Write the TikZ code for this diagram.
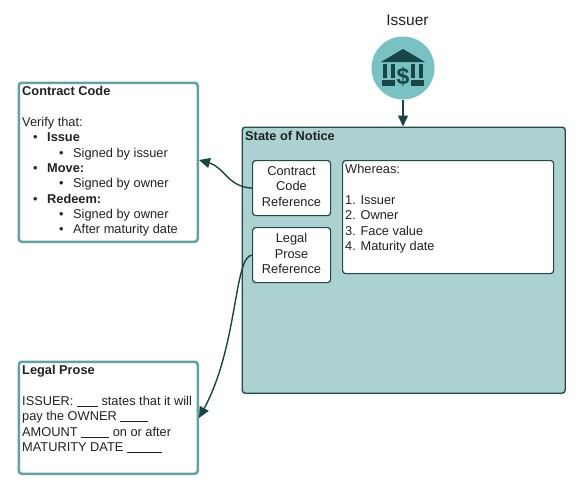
\documentclass[tikz,border=0pt]{standalone}
\usepackage{fontspec}
\setmainfont{Liberation Sans}
\usetikzlibrary{arrows.meta,positioning}
\definecolor{tealedge}{HTML}{5FA3A3}
\definecolor{darkedge}{HTML}{23494B}
\definecolor{statefill}{HTML}{ABD1D0}
\definecolor{circfill}{HTML}{78C2C3}
\definecolor{icon}{HTML}{174548}
\definecolor{txt}{HTML}{222222}
\newcommand{\lineset}{\fontsize{12.8pt}{15.3pt}\selectfont}
\newcommand{\ua}[1]{\rule[-1pt]{#1}{0.6pt}}
\newcommand{\bA}{\hspace*{11pt}\makebox[14pt][l]{\textbullet}}
\newcommand{\bB}{\hspace*{37pt}\makebox[14pt][l]{\textbullet}}
\tikzset{
  x=1pt,y=-1pt,
  outerbox/.style={draw=tealedge,line width=2.5pt,rounded corners=3pt,fill=white,inner sep=0pt,anchor=north west},
  statebox/.style={draw=darkedge,line width=1.4pt,rounded corners=3pt,fill=statefill,inner sep=0pt,anchor=north west},
  innerbox/.style={draw=darkedge,line width=1.2pt,rounded corners=3pt,fill=white,inner sep=0pt,anchor=north west},
  boxtext/.style={inner sep=0pt,anchor=north west,align=left,text=txt,font=\lineset},
  reftext/.style={inner sep=0pt,align=center,text=txt,font=\lineset},
  link/.style={draw=icon,line width=1.4pt,-{Triangle[length=11pt,width=10pt]}},
}
\begin{document}
\begin{tikzpicture}
\useasboundingbox (0,0) rectangle (580,487);
\fill[white] (0,0) rectangle (580,487);
% boxes
\node[outerbox,minimum width=179pt,minimum height=159pt] (code) at (17.5,81.5) {};
\node[outerbox,minimum width=179pt,minimum height=112pt] (prose) at (17.5,360.5) {};
\node[statebox,minimum width=323pt,minimum height=266pt] (state) at (241.5,126.5) {};
\node[innerbox,minimum width=78pt,minimum height=55pt] (ccref) at (252,160) {};
\node[innerbox,minimum width=78pt,minimum height=55pt] (lpref) at (252,227) {};
\node[innerbox,minimum width=211pt,minimum height=113pt] (whereas) at (342,160) {};
% circle and icon
\node[circle,fill=circfill,minimum size=63pt,inner sep=0pt] (issuer) at (403,68) {};
\fill[icon] (403,49) -- (425,62) -- (381,62) -- cycle;
\foreach \px in {384,392,420,412}{\fill[icon] (\px-1.5,64) rectangle (\px+3,78);}
\fill[icon] (382,80) rectangle (424,86);
\node[inner sep=1.5pt,fill=circfill,text=icon,font=\fontsize{23pt}{23pt}\selectfont\bfseries] (dollar) at (403,76.5) {\$};
% texts
\node[inner sep=0pt,text=txt,font=\fontsize{15.5pt}{17pt}\selectfont] (issuerlabel) at (407.5,20) {Issuer};
\node[boxtext] (codetext) at (22,86.5) {\textbf{Contract Code}\\[15.3pt]
Verify that:\\
\bA\textbf{Issue}\\
\bB Signed by issuer\\
\bA\textbf{Move:}\\
\bB Signed by owner\\
\bA\textbf{Redeem:}\\
\bB Signed by owner\\
\bB After maturity date};
\node[boxtext] (prosetext) at (22,365.5) {\textbf{Legal Prose}\\[15.3pt]
ISSUER: \ua{21pt} states that it will\\
pay the OWNER \ua{28pt}\\
AMOUNT \ua{28pt} on or after\\
MATURITY DATE \ua{35pt}};
\node[boxtext,anchor=north west] (statetitle) at (245,131.5) {\textbf{State of Notice}};
\node[reftext] (cctext) at (291.5,186.5) {Contract\\Code\\Reference};
\node[reftext] (lptext) at (291.5,253.5) {Legal\\Prose\\Reference};
\node[boxtext] (wtext) at (345,164.5) {Whereas:\\[15.3pt]
1. Issuer\\
2. Owner\\
3. Face value\\
4. Maturity date};
% connectors
\draw[link] (ccref.west) .. controls (228,187) and (224,167) .. (code.east |- 0,160);
\draw[link] (lpref.west) .. controls (234,256) and (238,346) .. (prose.east |- 0,418);
\draw[link] (issuer.south) -- (state.north -| issuer.south);
\end{tikzpicture}
\end{document}
